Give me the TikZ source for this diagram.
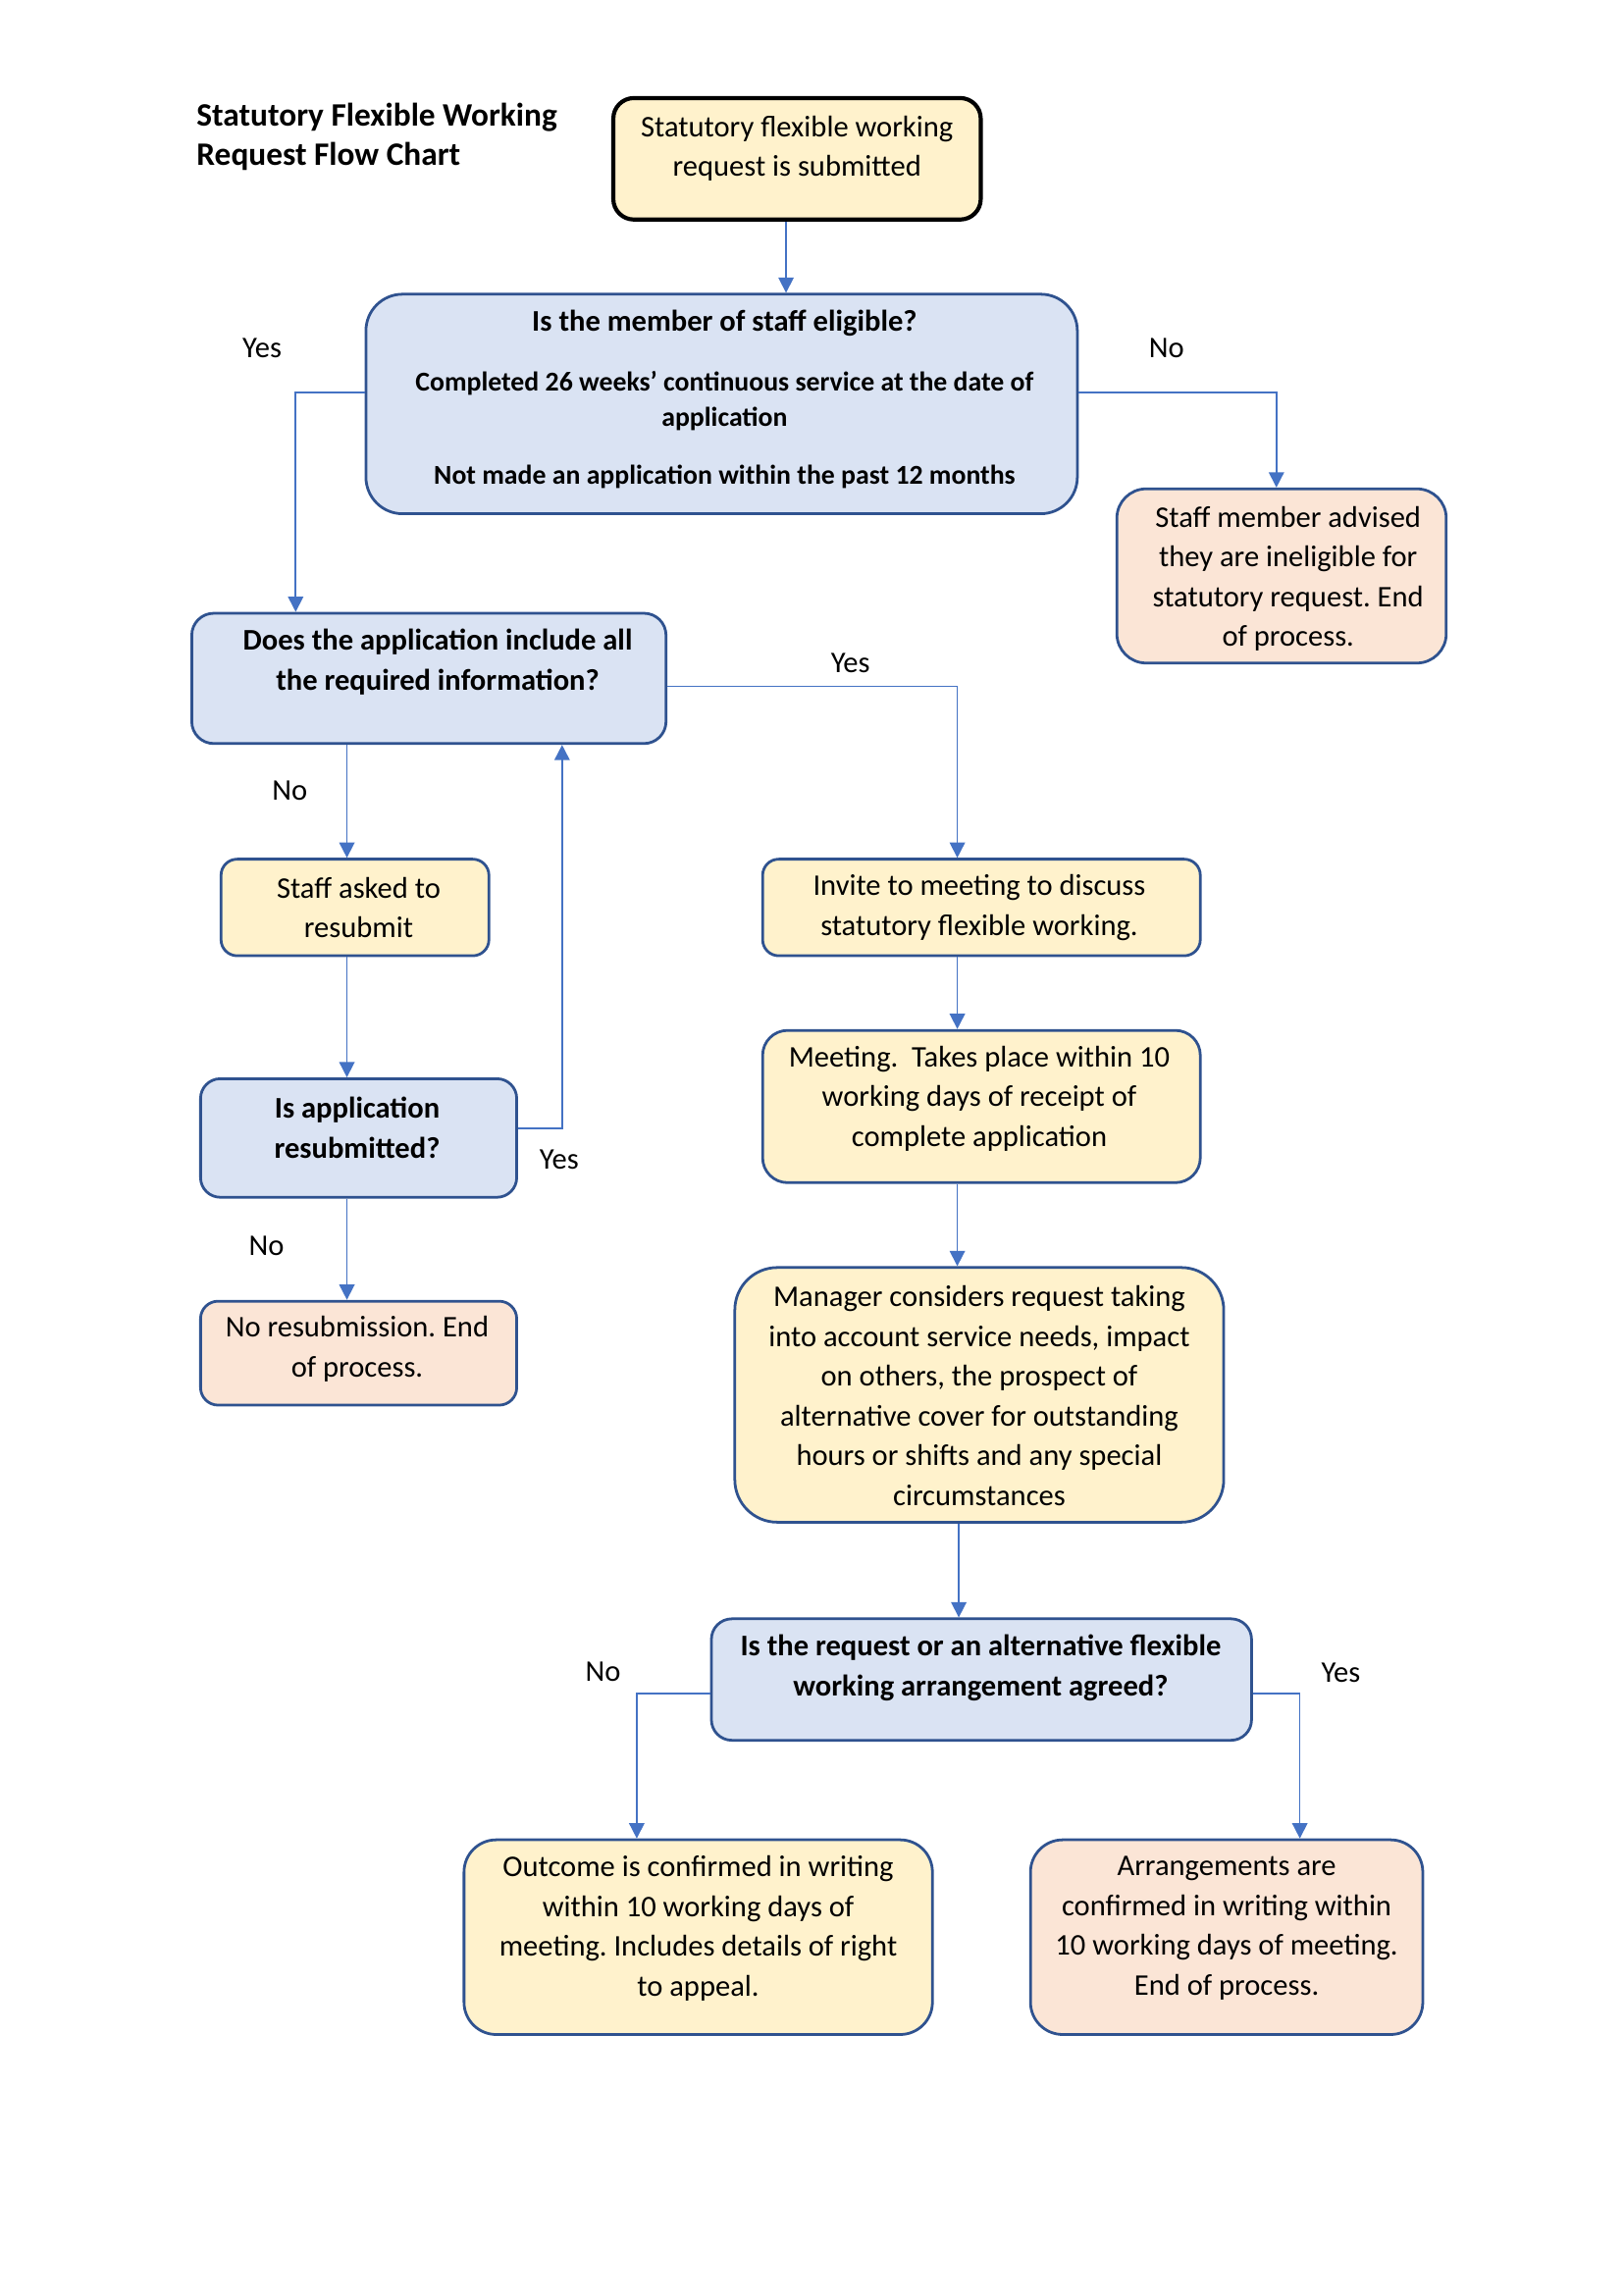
\documentclass[tikz,border=0pt]{standalone}
\usepackage{fontspec}
\setmainfont{Carlito}
\usetikzlibrary{arrows.meta}
\newlength\pu \setlength\pu{0.537pt}
\definecolor{yel}{HTML}{FFF2CC}
\definecolor{blu}{HTML}{DAE3F3}
\definecolor{pnk}{HTML}{FBE5D6}
\definecolor{bord}{HTML}{2F528F}
\definecolor{lnk}{HTML}{4472C4}
\tikzset{
  box/.style={draw=bord, line width=1pt, inner sep=0pt},
  yelbox/.style={box, fill=yel},
  blubox/.style={box, fill=blu},
  pnkbox/.style={box, fill=pnk},
  startbox/.style={draw=black, line width=1.5pt, fill=yel, inner sep=0pt},
  sz/.style n args={3}{minimum width=#1\pu, minimum height=#2\pu, rounded corners=#3\pu},
  txt/.style={align=center, inner sep=0pt, font=\fontsize{11}{14.6}\selectfont},
  btxt/.style={align=center, inner sep=0pt, font=\fontsize{11}{14.8}\selectfont\bfseries},
  stxt/.style={align=center, inner sep=0pt, font=\fontsize{10}{13}\selectfont\bfseries},
  lbl/.style={inner sep=0pt, font=\fontsize{11}{13}\selectfont},
  conn/.style={draw=lnk, line width=0.6pt, -{Triangle[width=5.6pt,length=5.6pt]}},
}
\frenchspacing
\begin{document}
\begin{tikzpicture}[x=0.537pt,y=-0.537pt]
\useasboundingbox[fill=white] (0,0) rectangle (1108.8,1568.0);

% title
\node[align=left, inner sep=0pt, anchor=west, font=\fontsize{12}{14.65}\selectfont\bfseries] (title) at (134,93.5) {Statutory Flexible Working\\Request Flow Chart};

% boxes
\node[startbox, sz={251}{83}{14}] (start) at (544.5,108.5) {};
\node[txt] (startT) at (544.5,101.5) {Statutory flexible working\\request is submitted};

\node[blubox, sz={486}{150}{25}] (elig) at (493,276) {};
\node[btxt] (eligT1) at (495,221) {Is the member of staff eligible?};
\node[stxt] (eligT2) at (495,274) {Completed 26 weeks’ continuous service at the date of\\application};
\node[stxt] (eligT3) at (495,326) {Not made an application within the past 12 months};

\node[pnkbox, sz={225}{119}{20}] (inelig) at (875.5,393.5) {};
\node[txt] (ineligT) at (880,395.5) {Staff member advised\\they are ineligible for\\statutory request. End\\of process.};

\node[blubox, sz={324}{89}{15}] (check) at (293,463.5) {};
\node[btxt] (checkT) at (299,452) {Does the application include all\\the required information?};

\node[yelbox, sz={183}{66}{11}] (resub) at (242.5,620) {};
\node[txt] (resubT) at (245,620) {Staff asked to\\resubmit};

\node[blubox, sz={216}{81}{13.5}] (isres) at (245,777.5) {};
\node[btxt] (isresT) at (244,770.5) {Is application\\resubmitted?};

\node[pnkbox, sz={216}{71}{12}] (nores) at (245,924.5) {};
\node[txt] (noresT) at (244,921.5) {No resubmission. End\\of process.};

\node[yelbox, sz={299}{66}{11}] (invite) at (670.5,620) {};
\node[txt] (inviteT) at (669,620) {Invite to meeting to discuss\\statutory flexible working.};

\node[yelbox, sz={299}{104}{17}] (meet) at (670.5,756) {};
\node[txt] (meetT) at (669,750.5) {Meeting.\ \ Takes place within 10\\working days of receipt of\\complete application};

\node[yelbox, sz={334}{174}{29}] (mgr) at (669,953) {};
\node[txt] (mgrT) at (669,953.5) {Manager considers request taking\\into account service needs, impact\\on others, the prospect of\\alternative cover for outstanding\\hours or shifts and any special\\circumstances};

\node[blubox, sz={369}{83}{14}] (agreed) at (670.5,1147.5) {};
\node[btxt] (agreedT) at (670,1139.5) {Is the request or an alternative flexible\\working arrangement agreed?};

\node[yelbox, sz={320}{133}{22}] (outcome) at (477,1323.5) {};
\node[txt] (outcomeT) at (477,1317.5) {Outcome is confirmed in writing\\within 10 working days of\\meeting. Includes details of right\\to appeal.};

\node[pnkbox, sz={268}{133}{22}] (arr) at (838,1323.5) {};
\node[txt] (arrT) at (838,1317.5) {Arrangements are\\confirmed in writing within\\10 working days of meeting.\\End of process.};

% connector bends
\coordinate (a1) at (537,0);
\coordinate (c1) at (202,268);
\coordinate (c2) at (872,268);
\coordinate (c3) at (654,469);
\coordinate (c4) at (237,0);
\coordinate (c5) at (384,771);
\coordinate (c6) at (435,1157);
\coordinate (c7) at (888,1157);
\coordinate (a2) at (655,0);

\draw[conn] (start.south -| a1) -- (elig.north -| a1);
\draw[conn] (elig.west |- c1) -- (c1) -- (check.north -| c1);
\draw[conn] (elig.east |- c2) -- (c2) -- (inelig.north -| c2);
\draw[conn] (check.east |- c3) -- (c3) -- (invite.north -| c3);
\draw[conn] (check.south -| c4) -- (resub.north -| c4);
\draw[conn] (resub.south -| c4) -- (isres.north -| c4);
\draw[conn] (isres.east |- c5) -- (c5) -- (check.south -| c5);
\draw[conn] (isres.south -| c4) -- (nores.north -| c4);
\draw[conn] (invite.south -| c3) -- (meet.north -| c3);
\draw[conn] (meet.south -| c3) -- (mgr.north -| c3);
\draw[conn] (mgr.south -| a2) -- (agreed.north -| a2);
\draw[conn] (agreed.west |- c6) -- (c6) -- (outcome.north -| c6);
\draw[conn] (agreed.east |- c7) -- (c7) -- (arr.north -| c7);

% labels
\node[lbl] (l1) at (179,238) {Yes};
\node[lbl] (l2) at (797,238) {No};
\node[lbl] (l3) at (581,453) {Yes};
\node[lbl] (l4) at (198,540) {No};
\node[lbl] (l5) at (382,792) {Yes};
\node[lbl] (l6) at (182,851) {No};
\node[lbl] (l7) at (412,1142) {No};
\node[lbl] (l8) at (916,1143) {Yes};
\end{tikzpicture}
\end{document}
